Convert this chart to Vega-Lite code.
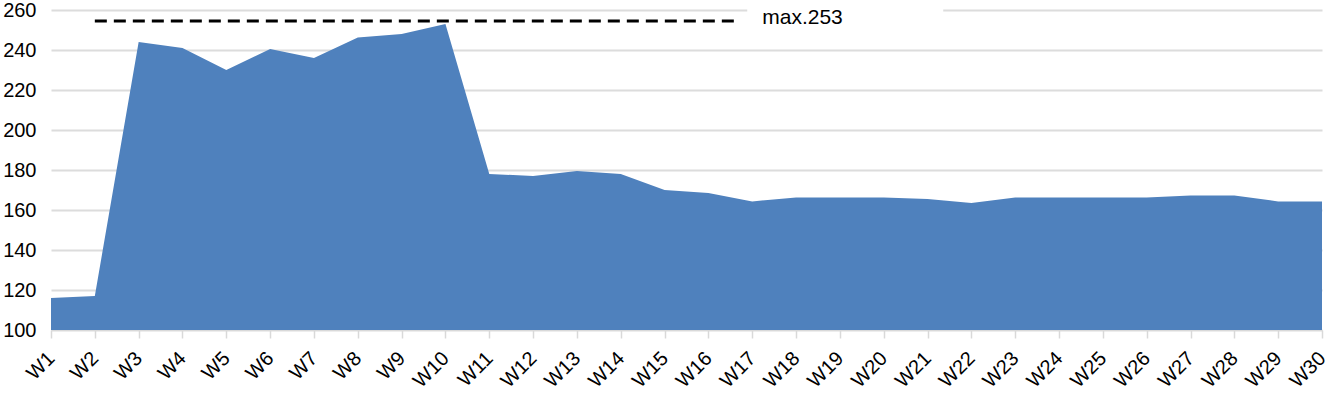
{
  "$schema": "https://vega.github.io/schema/vega-lite/v6.json",
  "autosize": {"type": "none"},
  "width": 1271,
  "height": 320,
  "padding": {"left": 51, "top": 10, "right": 3, "bottom": 63},
  "background": "white",
  "config": {
    "view": {"stroke": null},
    "font": "Liberation Sans"
  },
  "datasets": {
    "weeks": [
      {"week": "W1", "value": 116},
      {"week": "W2", "value": 117},
      {"week": "W3", "value": 244},
      {"week": "W4", "value": 241},
      {"week": "W5", "value": 230},
      {"week": "W6", "value": 240.5},
      {"week": "W7", "value": 236},
      {"week": "W8", "value": 246.3},
      {"week": "W9", "value": 248},
      {"week": "W10", "value": 253},
      {"week": "W11", "value": 178},
      {"week": "W12", "value": 177},
      {"week": "W13", "value": 179.5},
      {"week": "W14", "value": 178},
      {"week": "W15", "value": 170},
      {"week": "W16", "value": 168.5},
      {"week": "W17", "value": 164.3},
      {"week": "W18", "value": 166.3},
      {"week": "W19", "value": 166.3},
      {"week": "W20", "value": 166.3},
      {"week": "W21", "value": 165.5},
      {"week": "W22", "value": 163.5},
      {"week": "W23", "value": 166.3},
      {"week": "W24", "value": 166.3},
      {"week": "W25", "value": 166.3},
      {"week": "W26", "value": 166.3},
      {"week": "W27", "value": 167.2},
      {"week": "W28", "value": 167.2},
      {"week": "W29", "value": 164.3},
      {"week": "W30", "value": 164.3}
    ],
    "maxline": [
      {"from": "W2", "to": "W17", "level": 254.5, "label": "max.253"}
    ]
  },
  "encoding": {
    "x": {
      "type": "ordinal",
      "scale": {"type": "point", "padding": 0, "domain": ["W1","W2","W3","W4","W5","W6","W7","W8","W9","W10","W11","W12","W13","W14","W15","W16","W17","W18","W19","W20","W21","W22","W23","W24","W25","W26","W27","W28","W29","W30"]},
      "axis": {
        "title": null, "labelAngle": -45, "labelAlign": "right", "labelBaseline": "middle",
        "labelFont": "Liberation Sans", "labelFontSize": 20, "labelColor": "#000000",
        "labelPadding": 17, "labelOverlap": false, "labelBound": false, "ticks": true, "tickSize": 8, "tickColor": "#d9d9d9", "tickWidth": 1.5,
        "domain": true, "domainColor": "#d9d9d9", "grid": false
      }
    },
    "y": {
      "type": "quantitative",
      "scale": {"domain": [100, 260], "nice": false, "zero": false},
      "axis": {
        "title": null, "values": [100, 120, 140, 160, 180, 200, 220, 240, 260],
        "labelFont": "Liberation Sans", "labelFontSize": 20, "labelColor": "#000000",
        "labelOverlap": false, "domain": false, "ticks": false, "labelPadding": 15,
        "grid": true, "gridColor": "#dcdcdc", "gridWidth": 2
      }
    }
  },
  "layer": [
    {
      "data": {"name": "weeks"},
      "mark": {"type": "area", "color": "#4F81BD", "opacity": 1},
      "encoding": {
        "x": {"field": "week", "type": "ordinal"},
        "y": {"field": "value", "type": "quantitative"},
        "y2": {"datum": 100}
      }
    },
    {
      "data": {"name": "maxline"},
      "mark": {"type": "rect", "color": "white", "xOffset": -5, "x2Offset": 191},
      "encoding": {
        "x": {"field": "to", "type": "ordinal"},
        "x2": {"field": "to"},
        "y": {"datum": 257, "type": "quantitative"},
        "y2": {"datum": 262}
      }
    },
    {
      "data": {"name": "maxline"},
      "mark": {"type": "rule", "color": "#000000", "strokeWidth": 3, "strokeDash": [12, 7], "x2Offset": -12},
      "encoding": {
        "x": {"field": "from", "type": "ordinal"},
        "x2": {"field": "to"},
        "y": {"field": "level", "type": "quantitative"}
      }
    },
    {
      "data": {"name": "maxline"},
      "mark": {"type": "text", "align": "left", "baseline": "middle", "dx": 10, "dy": -3, "fontSize": 21, "font": "Liberation Sans", "color": "#000000"},
      "encoding": {
        "x": {"field": "to", "type": "ordinal"},
        "y": {"field": "level", "type": "quantitative"},
        "text": {"field": "label"}
      }
    }
  ]
}
